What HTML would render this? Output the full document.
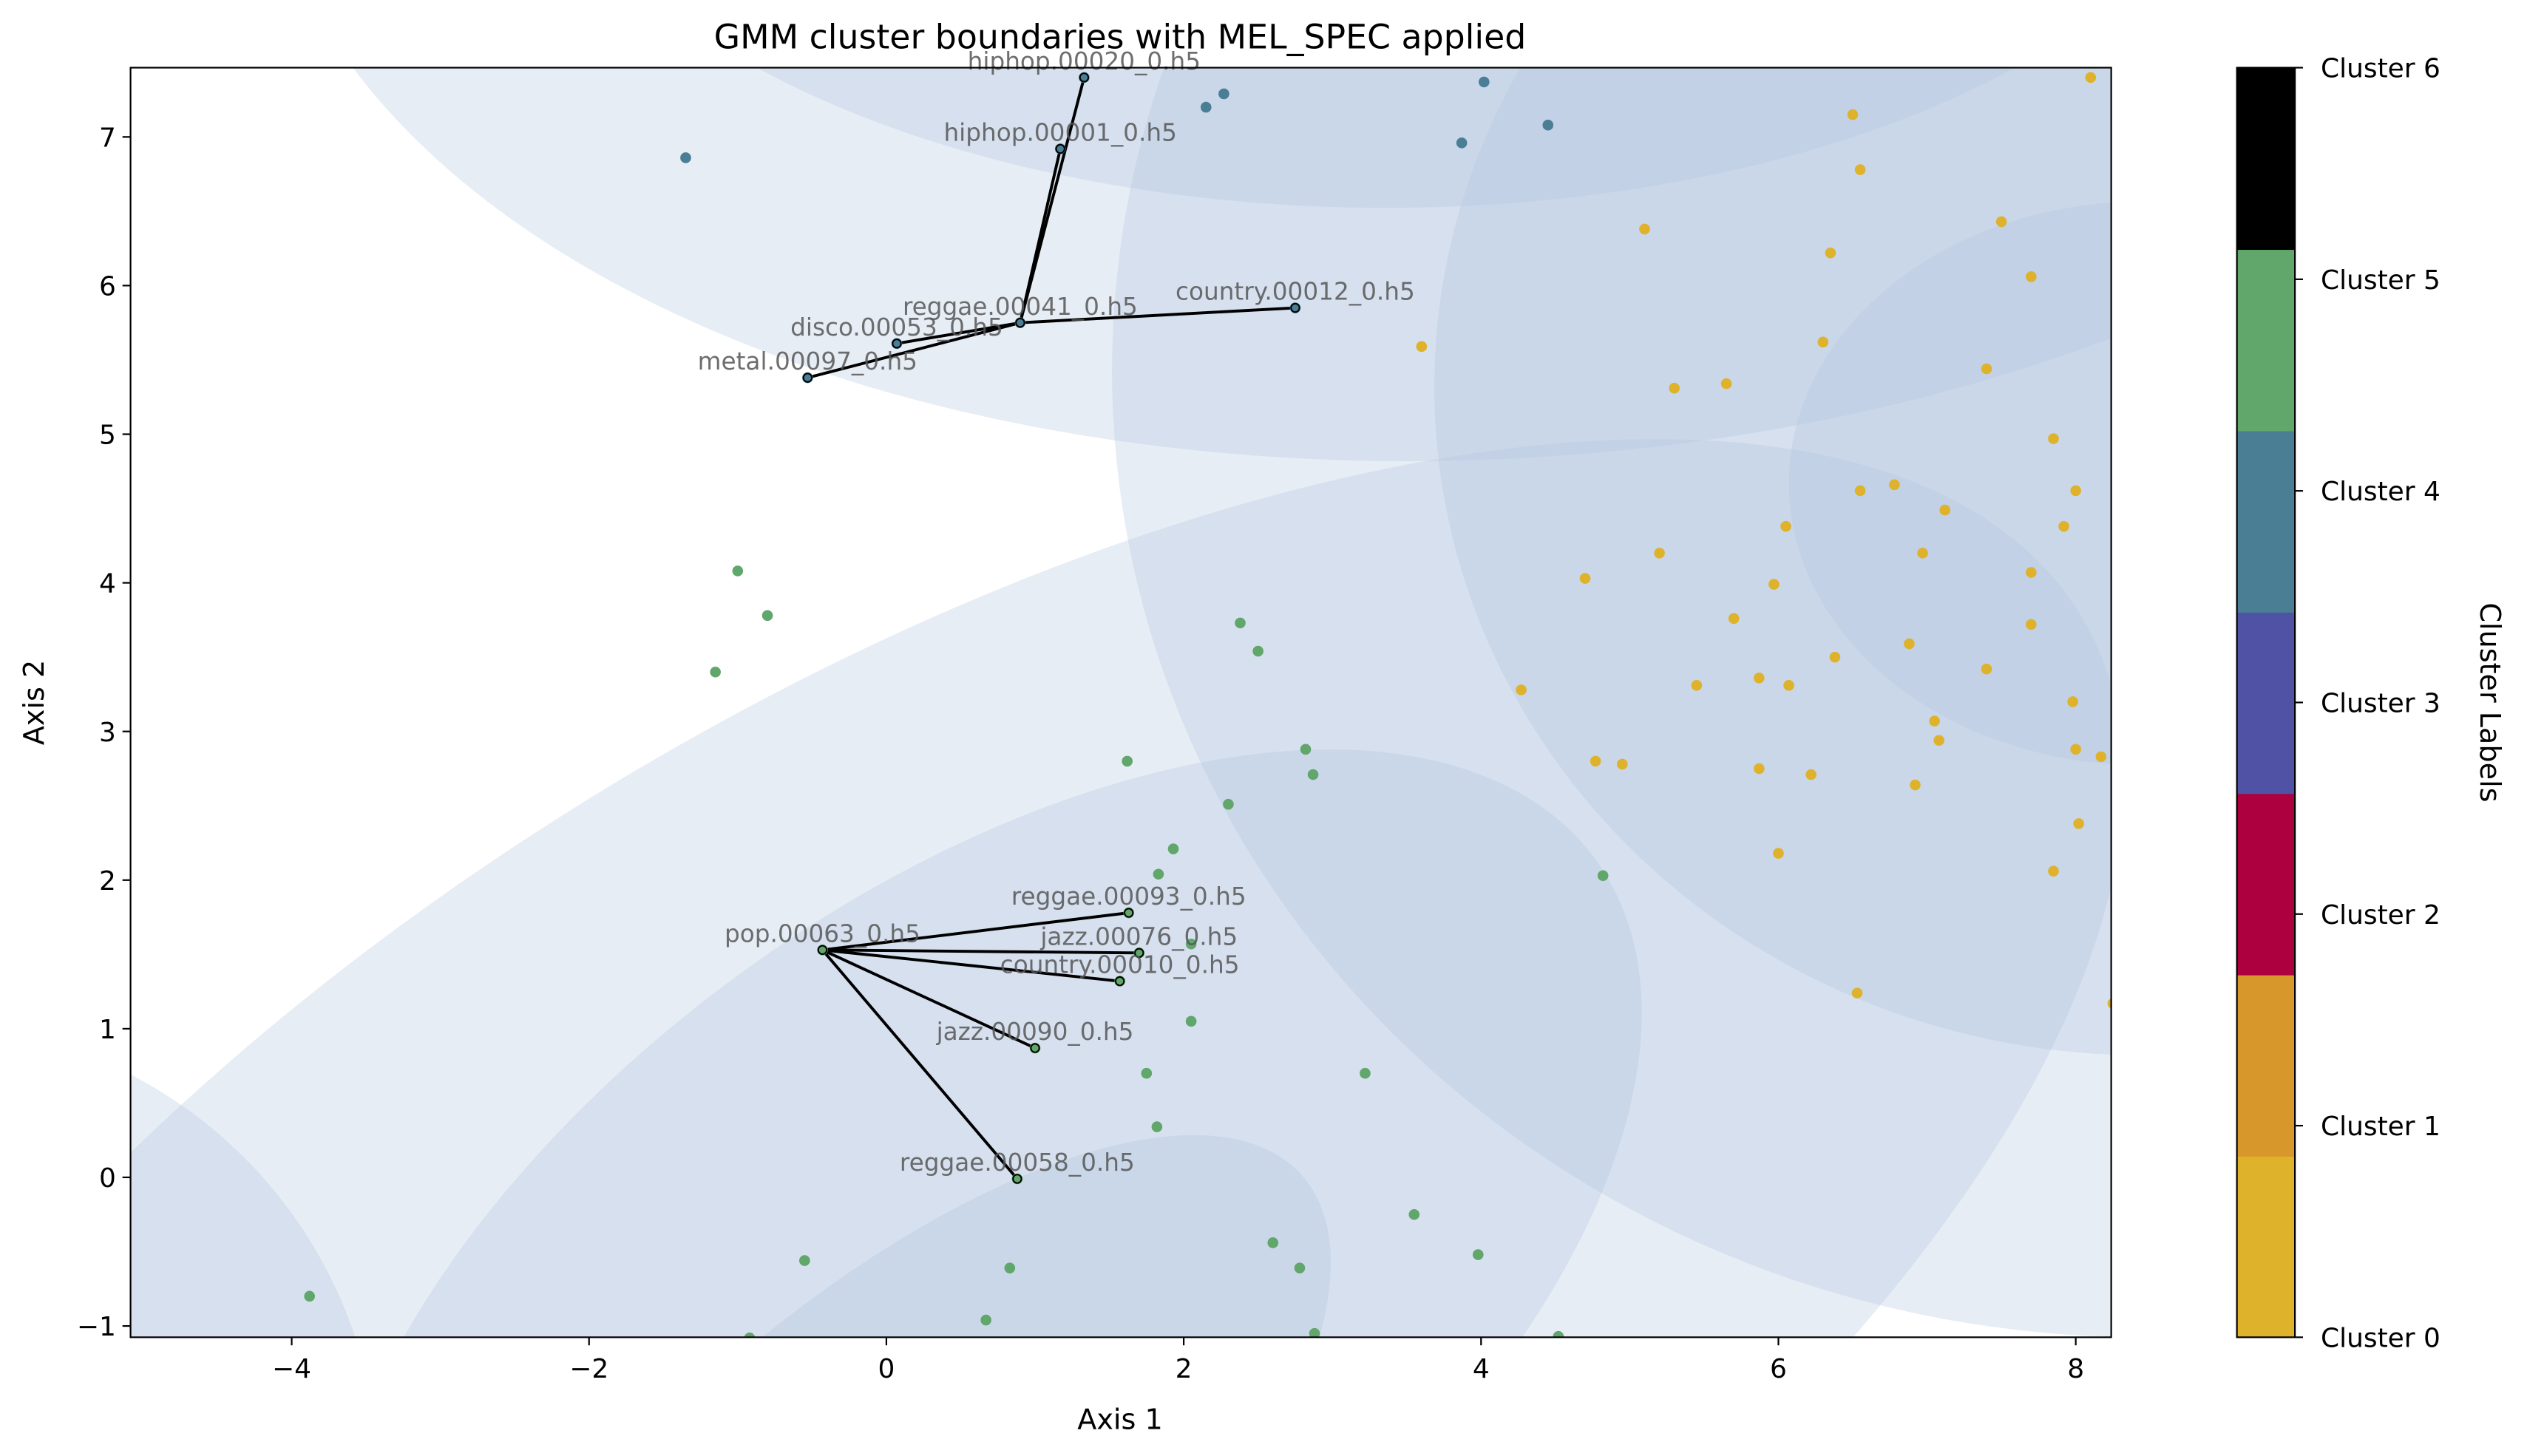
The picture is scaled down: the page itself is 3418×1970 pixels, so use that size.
<!DOCTYPE html>
<html><head><meta charset="utf-8"><style>
html,body{margin:0;padding:0;background:#fff;width:3418px;height:1970px;overflow:hidden;}
svg{display:block;font-family:"DejaVu Sans","Liberation Sans",sans-serif;}
</style></head><body>
<svg id="chart" width="3418" height="1970" viewBox="0 0 1568 903.7" preserveAspectRatio="none" xmlns="http://www.w3.org/2000/svg">
<defs><clipPath id="pc"><rect x="81" y="42" width="1229" height="788"/></clipPath></defs>
<rect width="1568" height="904" fill="#fff"/>
<g id="ell" clip-path="url(#pc)"></g>
<g id="lines" clip-path="url(#pc)"></g>
<g id="pts" clip-path="url(#pc)"></g>
<g id="lbls"></g>
<rect x="81" y="42" width="1229" height="788" fill="none" stroke="#000" stroke-width="1"/>
<g id="axes"></g>
<text x="695" y="30" font-size="21" text-anchor="middle">GMM cluster boundaries with MEL_SPEC applied</text>
<text x="695" y="887" font-size="17.5" text-anchor="middle">Axis 1</text>
<text transform="translate(27,436) rotate(-90)" font-size="17.5" text-anchor="middle">Axis 2</text>
<g id="cbar"></g>
<text transform="translate(1539,436) rotate(90)" font-size="17.5" text-anchor="middle">Cluster Labels</text>
</svg>
<script>
const xTicks=[-4,-2,0,2,4,6,8];
const yTicks=[-1,0,1,2,3,4,5,6,7];
const clusterNames=["Cluster 0","Cluster 1","Cluster 2","Cluster 3","Cluster 4","Cluster 5","Cluster 6"];
const clusterColors=["#dfb22c","#d8972a","#ac003f","#5053a5","#4a7e94","#61a66a","#000000"];
const c0x=[6.5,6.55,5.1,6.35,7.5,7.7,8.1,3.6,6.3,5.3,5.65,7.4,7.85,8,6.55,6.78,7.12,6.05,7.92,5.2,6.97,4.7,5.97,7.7,5.7,7.7,6.88,6.38,7.4,5.87,5.45,6.07,4.27,7.98,7.05,7.08,8,8.17,4.77,4.95,5.87,6.22,6.92,8.02,6,7.85,6.53,8.25];
const c0y=[7.15,6.78,6.38,6.22,6.43,6.06,7.4,5.59,5.62,5.31,5.34,5.44,4.97,4.62,4.62,4.66,4.49,4.38,4.38,4.2,4.2,4.03,3.99,4.07,3.76,3.72,3.59,3.5,3.42,3.36,3.31,3.31,3.28,3.2,3.07,2.94,2.88,2.83,2.8,2.78,2.75,2.71,2.64,2.38,2.18,2.06,1.24,1.17];
const c4x=[-1.35,2.15,2.27,3.87,4.02,4.45,1.33,1.17,0.9,2.75,0.07,-0.53];
const c4y=[6.86,7.2,7.29,6.96,7.37,7.08,7.4,6.92,5.75,5.85,5.61,5.38];
const c5x=[-1.0,-0.8,-1.15,2.38,2.5,1.62,2.82,2.87,2.3,1.93,1.83,4.82,1.63,2.05,-0.43,1.7,1.57,2.05,1.0,1.75,3.22,1.82,0.88,3.55,2.6,3.98,-0.55,0.83,2.78,-3.88,0.67,-0.92,2.88,4.52];
const c5y=[4.08,3.78,3.4,3.73,3.54,2.8,2.88,2.71,2.51,2.21,2.04,2.03,1.78,1.57,1.53,1.51,1.32,1.05,0.87,0.7,0.7,0.34,-0.01,-0.25,-0.44,-0.52,-0.56,-0.61,-0.61,-0.8,-0.96,-1.08,-1.05,-1.07];
const hubNames=["reggae.00041_0.h5","pop.00063_0.h5"];
const hubX=[0.9,-0.43];
const hubY=[5.75,1.53];
const nbHub=[0,0,0,0,0,1,1,1,1,1];
const nbNames=["hiphop.00020_0.h5","hiphop.00001_0.h5","country.00012_0.h5","disco.00053_0.h5","metal.00097_0.h5","reggae.00093_0.h5","jazz.00076_0.h5","country.00010_0.h5","jazz.00090_0.h5","reggae.00058_0.h5"];
const nbX=[1.33,1.17,2.75,0.07,-0.53,1.63,1.7,1.57,1.0,0.88];
const nbY=[7.4,6.92,5.85,5.61,5.38,1.78,1.51,1.32,0.87,-0.01];

const NS="http://www.w3.org/2000/svg";
const X=v=>181+(v+4)*92.25;
const Y=v=>85+(7-v)*92.25;
function mk(tag,parent,attrs){const e=document.createElementNS(NS,tag);for(const k in attrs)e.setAttribute(k,attrs[k]);parent.appendChild(e);return e;}

const ellG=document.getElementById('ell');
[[920,-150,760,435,-3],[860,-150,538,279,0],[1330,230,640,600,0],[1330,240,440,415,0],[1330,300,220,175,0],[580,810,830,380,-31],[610,810,470,255,-36],[540,970,360,150,-42],[-50,920,285,285,0]].forEach(s=>{
  const e=mk('ellipse',ellG,{cx:s[0],cy:s[1],rx:s[2],ry:s[3],transform:`rotate(${s[4]} ${s[0]} ${s[1]})`,fill:'rgba(176,196,222,0.3)'});
  
  
});

const lg=document.getElementById('lines');
for(let i=0;i<nbX.length;i++){
  const h=nbHub[i];
  const l=mk('line',lg,{x1:X(hubX[h]),y1:Y(hubY[h]),x2:X(nbX[i]),y2:Y(nbY[i]),stroke:'#000','stroke-width':1.8});
  
  
}

const pg=document.getElementById('pts');
function drawPts(xs,ys,col){
  for(let i=0;i<xs.length;i++){
    const c=mk('circle',pg,{cx:X(xs[i]),cy:Y(ys[i]),r:3.1,fill:col,stroke:col,'stroke-width':0.5});
    
    
  }
}
drawPts(c0x,c0y,clusterColors[0]);
drawPts(c4x,c4y,clusterColors[4]);
drawPts(c5x,c5y,clusterColors[5]);
for(let i=0;i<nbX.length;i++){
  const c=mk('circle',pg,{cx:X(nbX[i]),cy:Y(nbY[i]),r:2.6,fill:nbHub[i]?clusterColors[5]:clusterColors[4],stroke:'#000','stroke-width':0.9});
  
  
}
for(let h=0;h<hubX.length;h++){
  const c=mk('circle',pg,{cx:X(hubX[h]),cy:Y(hubY[h]),r:2.6,fill:h?clusterColors[5]:clusterColors[4],stroke:'#000','stroke-width':0.9});
  
  
}

const lb=document.getElementById('lbls');
function lab(x,y,t){
  const e=mk('text',lb,{x:X(x),y:Y(y)-5,'font-size':15,'text-anchor':'middle',fill:'#555','fill-opacity':0.85});
  e.textContent=t;
  
  
}
for(let h=0;h<hubX.length;h++)lab(hubX[h],hubY[h],hubNames[h]);
for(let i=0;i<nbX.length;i++)lab(nbX[i],nbY[i],nbNames[i]);

const ax=document.getElementById('axes');
xTicks.forEach(v=>{
  const l=mk('line',ax,{x1:X(v),x2:X(v),y1:830,y2:835,stroke:'#000','stroke-width':1});
  
  
  const t=mk('text',ax,{x:X(v),y:855,'font-size':16.5,'text-anchor':'middle'});
  t.textContent=(v<0?'\u2212'+(-v):''+v);
  
  
});
yTicks.forEach(v=>{
  const l=mk('line',ax,{x1:76,x2:81,y1:Y(v),y2:Y(v),stroke:'#000','stroke-width':1});
  
  
  const t=mk('text',ax,{x:72,y:Y(v)+6,'font-size':16.5,'text-anchor':'end'});
  t.textContent=(v<0?'\u2212'+(-v):''+v);
  
  
});

const cb=document.getElementById('cbar');
const cbTop=42,cbBot=830,cbL=1388,cbW=36,n=clusterColors.length,segH=(cbBot-cbTop)/n;
for(let i=0;i<n;i++){
  const r=mk('rect',cb,{x:cbL,y:cbBot-(i+1)*segH,width:cbW,height:segH+0.5,fill:clusterColors[i]});
  
  
}
mk('rect',cb,{x:cbL,y:cbTop,width:cbW,height:cbBot-cbTop,fill:'none',stroke:'#000','stroke-width':1});
for(let i=0;i<n;i++){
  const y=cbBot-i*(cbBot-cbTop)/(n-1);
  const l=mk('line',cb,{x1:cbL+cbW,x2:cbL+cbW+5,y1:y,y2:y,stroke:'#000','stroke-width':1});
  
  
  const t=mk('text',cb,{x:1440,y:y+6,'font-size':16.5});
  t.textContent=clusterNames[i];
  
  
}
</script>
</body></html>
